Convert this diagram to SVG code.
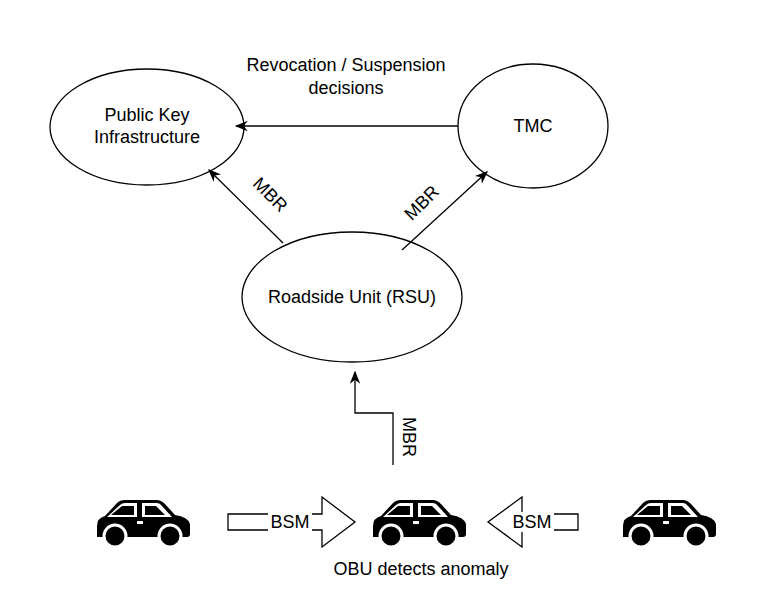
<svg xmlns="http://www.w3.org/2000/svg" width="760" height="597" viewBox="0 0 760 597">
<style>
.n{fill:#fff;stroke:#000;stroke-width:1.3}
.c{fill:none;stroke:#000;stroke-width:1.3}
text{font-family:"Liberation Sans",Arial,sans-serif;font-size:18px;fill:#000;text-anchor:middle}
</style>
<defs>
<marker id="a" viewBox="0 0 10 10" refX="9" refY="5" markerWidth="10" markerHeight="10" orient="auto"><path d="M0,1 L10,5 L0,9 L3,5 Z" fill="#000"/></marker>
<g id="car">
<path d="M2,26 Q2,18 10,16 L22,3 Q25,0 30,0 L62,0 Q66,0 70,4 L80,15 Q93,17 95,24 L95,34 Q95,37 92,37 L2,37 Z" fill="#000"/>
<path d="M12,17 L25,5 Q27,3 30,3 L42,3 L42,17 Z M47,3 L62,3 Q65,3 67,6 L77,17 L47,17 Z" fill="#fff"/>
<path d="M16,15 L27,6 L39,6 L39,15 Z M50,6 L61,6 L70,15 L50,15 Z" fill="#000"/>
<rect x="42" y="21" width="6" height="3" fill="#fff"/>
<circle cx="20" cy="36" r="11" fill="#000" stroke="#fff" stroke-width="3"/>
<circle cx="75" cy="36" r="11" fill="#000" stroke="#fff" stroke-width="3"/>
</g>
</defs>
<g id="pki"><ellipse class="n" cx="147" cy="127" rx="97" ry="58"/><text x="147" y="121">Public Key</text><text x="147" y="143">Infrastructure</text></g>
<g id="tmc"><ellipse class="n" cx="533" cy="126" rx="75" ry="62"/><text x="533" y="132">TMC</text></g>
<g id="rsu"><ellipse class="n" cx="352" cy="297" rx="110" ry="65"/><text x="352" y="303">Roadside Unit (RSU)</text></g>
<g id="connectors">
<line class="c" x1="458" y1="126" x2="236" y2="126" marker-end="url(#a)"/>
<line class="c" x1="283" y1="243" x2="209" y2="170" marker-end="url(#a)"/>
<line class="c" x1="402" y1="250" x2="487" y2="172" marker-end="url(#a)"/>
<polyline class="c" points="393,465 393,413 355,413 355,372" marker-end="url(#a)"/>
<text x="346" y="71">Revocation / Suspension</text>
<text x="346" y="94">decisions</text>
<text transform="translate(266,199) rotate(45)">MBR</text>
<text transform="translate(426,207) rotate(-45)">MBR</text>
<text transform="translate(403,437) rotate(90)">MBR</text>
</g>
<g id="car1"><use href="#car" x="95" y="500"/></g>
<g id="car2"><use href="#car" x="371" y="500"/></g>
<g id="car3"><use href="#car" x="621" y="500"/></g>
<g id="bsm1"><path class="n" d="M228,514 L322,514 L322,497 L355,522 L322,547 L322,530 L228,530 Z"/><rect x="268" y="512" width="44" height="20" fill="#fff"/><text x="290" y="528">BSM</text></g>
<g id="bsm2"><path class="n" d="M578,514 L522,514 L522,497 L488,522 L522,547 L522,530 L578,530 Z"/><rect x="510" y="512" width="44" height="20" fill="#fff"/><text x="532" y="528">BSM</text></g>
<g id="obu"><text x="421" y="575">OBU detects anomaly</text></g>
</svg>
